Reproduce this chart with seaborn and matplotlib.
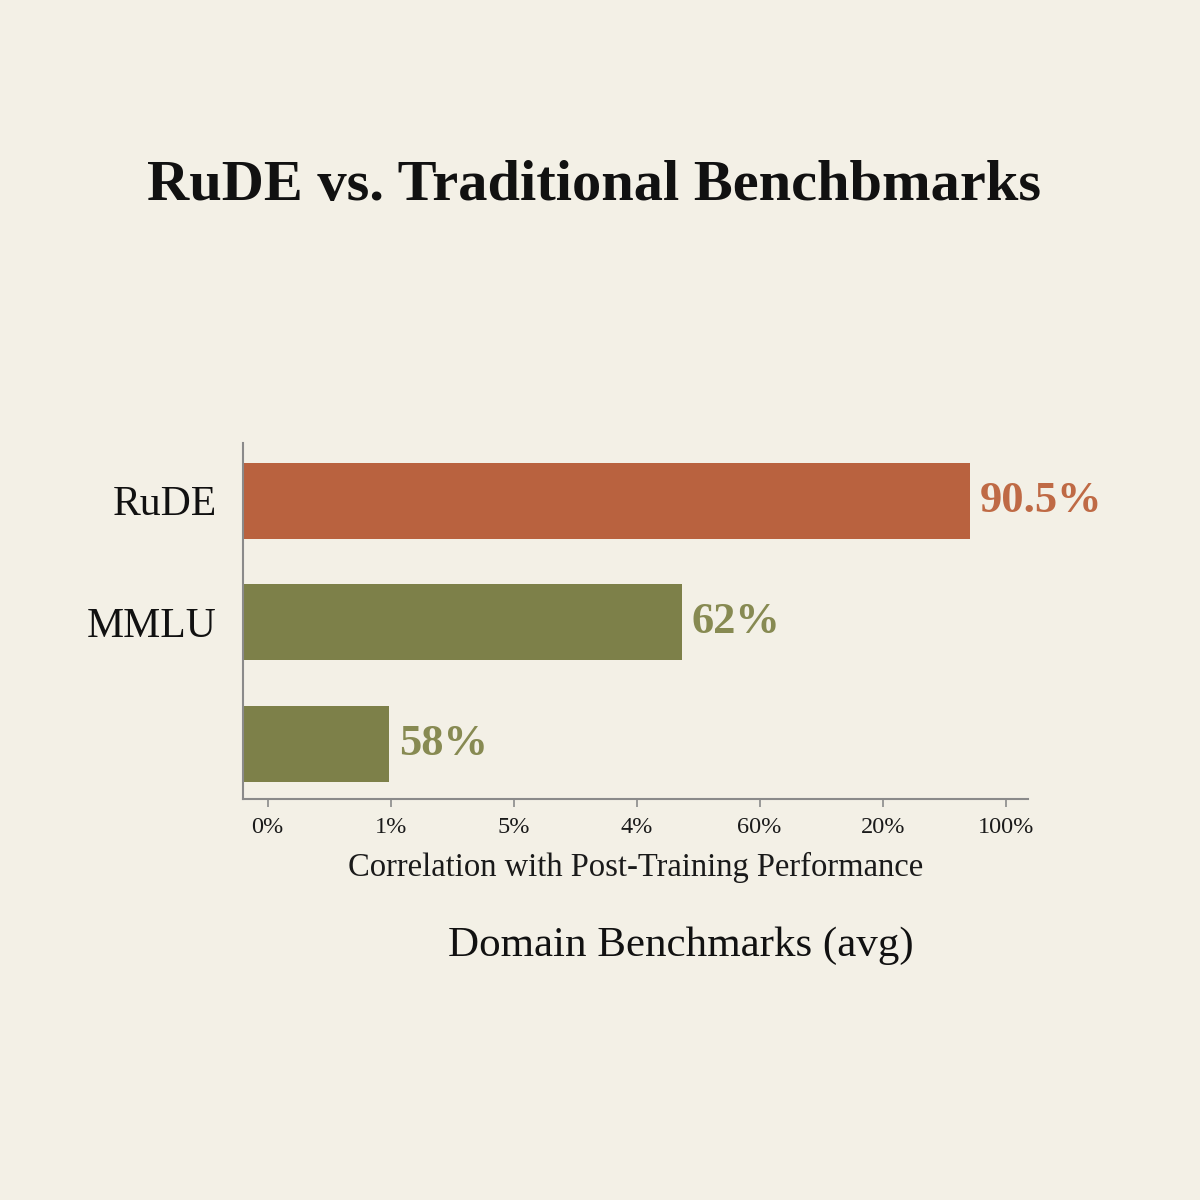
import matplotlib
matplotlib.use("Agg")
import matplotlib.pyplot as plt
import seaborn as sns
import pandas as pd

# ---- data ----
categories = ["RuDE", "MMLU", ""]
bar_lengths = [5.91, 3.57, 1.19]          # bar extent in axis units (as drawn)
value_labels = ["90.5%", "62%", "58%"]
tick_positions = [0.2, 1.2, 2.2, 3.2, 4.2, 5.2, 6.2]
tick_labels = ["0%", "1%", "5%", "4%", "60%", "20%", "100%"]
bar_colors = ["#b9623f", "#7d8049", "#7d8049"]
label_colors = ["#bf6a45", "#878a52", "#878a52"]

title = "RuDE vs. Traditional Benchbmarks"
xlabel = "Correlation with Post-Training Performance"
footer = "Domain Benchmarks (avg)"

BG = "#f3f0e6"
sns.set_theme(style="white")
plt.rcParams["font.family"] = ["Liberation Serif", "DejaVu Serif"]

df = pd.DataFrame({"cat": categories, "val": bar_lengths})

fig = plt.figure(figsize=(12, 12), dpi=100, facecolor=BG)
ax = fig.add_axes([0.2025, 0.334, 0.654, 0.297])
ax.set_facecolor(BG)

sns.barplot(data=df, y="cat", x="val", hue="cat", palette=bar_colors,
            orient="h", width=0.625, legend=False, ax=ax, saturation=1,
            linewidth=0, edgecolor="none")

for i, (v, lab) in enumerate(zip(bar_lengths, value_labels)):
    ax.text(v + 0.08, i, lab, va="center", ha="left", fontsize=32,
            fontweight="bold", color=label_colors[i])

ax.set_xlim(0, 6.38)
ax.set_ylim(2.457, -0.477)
ax.set_xticks(tick_positions)
ax.set_xticklabels(tick_labels, fontsize=17.5, color="#1a1a1a")
ax.tick_params(axis="x", length=6, width=1.2, color="#8a8a8a", pad=7, direction="out", bottom=True)
ax.tick_params(axis="y", length=0, pad=19, labelsize=30, labelcolor="#111111")
ax.set_ylabel("")
ax.set_xlabel(xlabel, fontsize=23.5, color="#1a1a1a", labelpad=10)

for s in ["top", "right"]:
    ax.spines[s].set_visible(False)
for s in ["left", "bottom"]:
    ax.spines[s].set_color("#8a8a8a")
    ax.spines[s].set_linewidth(1.5)

fig.text(0.495, 0.845, title, ha="center", va="center", fontsize=42,
         fontweight="bold", color="#111111")
fig.text(0.567, 0.212, footer, ha="center", va="center", fontsize=31,
         color="#111111")

fig.savefig("out.png", dpi=100, facecolor=BG)
